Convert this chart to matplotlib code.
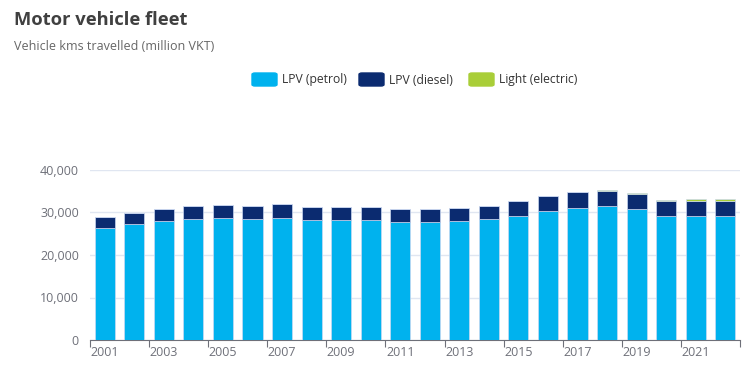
import numpy as np
import matplotlib.pyplot as plt
from matplotlib.patches import FancyBboxPatch
from matplotlib.ticker import FuncFormatter, MultipleLocator

plt.rcParams['font.family'] = ['Open Sans', 'DejaVu Sans']

years = list(range(2001, 2023))
petrol = [26350, 27220, 28000, 28550, 28630, 28390, 28790, 28160, 28240, 28240, 27840,
          27690, 28000, 28390, 29250, 30430, 31140, 31450, 30740, 29180, 29250, 29250]
diesel = [2510, 2660, 2740, 2980, 3130, 3140, 3130, 3050, 3050, 3050, 2900,
          3050, 3060, 3220, 3380, 3450, 3600, 3690, 3690, 3450, 3540, 3460]
electric = [0, 0, 0, 0, 0, 0, 0, 0, 0, 0, 0,
            0, 0, 5, 10, 20, 40, 150, 150, 230, 310, 550]
series_names = ['LPV (petrol)', 'LPV (diesel)', 'Light (electric)']
colors = ['#00b2ee', '#0b2b70', '#a9ce38']

fig = plt.figure(figsize=(7.51, 3.69), dpi=100)
ax = fig.add_axes([90/751, 29/369, 650/751, 170/369])

x = np.arange(len(years))
bottom = np.zeros(len(years))
for vals, c in zip([petrol, diesel, electric], colors):
    ax.bar(x, vals, bottom=bottom, width=0.68, color=c,
           edgecolor=(0.8, 0.85, 0.95, 0.8), linewidth=0.6, zorder=3)
    bottom += np.array(vals)

ax.set_xlim(-0.5, len(years) - 0.5)
ax.set_ylim(0, 40000)
ax.yaxis.set_major_locator(MultipleLocator(10000))
ax.yaxis.set_major_formatter(FuncFormatter(lambda v, p: f'{int(v):,}'))
ax.grid(axis='y', color='#e0e6f1', linewidth=1, zorder=0)
for s in ['top', 'right', 'left']:
    ax.spines[s].set_visible(False)
ax.spines['bottom'].set_color('#6e7079')
ax.tick_params(axis='y', length=0, pad=8, labelsize=9, labelcolor='#6e7079')

# category boundary ticks every 2, labels on bar centres
ax.set_xticks(np.arange(-0.5, len(years), 2))
ax.set_xticklabels([])
ax.tick_params(axis='x', length=5, color='#6e7079', direction='out')
ax.set_xticks(x[::2], minor=True)
ax.set_xticklabels([str(y) for y in years[::2]], minor=True)
ax.tick_params(axis='x', which='minor', length=0, pad=4, labelsize=9, labelcolor='#6e7079')

fig.text(14/751, 1 - 20/369, 'Motor vehicle fleet', fontsize=13.2, fontweight='bold',
         color='#404040', va='center', ha='left')
fig.text(14/751, 1 - 46/369, 'Vehicle kms travelled (million VKT)', fontsize=9,
         color='#666666', va='center', ha='left')

# legend
leg_y = 1 - 80/369
item_x = [252, 359, 469]
for px, name, c in zip(item_x, series_names, colors):
    fig.patches.append(FancyBboxPatch((px/751, leg_y - 6/369), 25/751, 13/369,
                                      boxstyle='round,pad=0,rounding_size=0.004',
                                      transform=fig.transFigure, color=c))
    fig.text((px + 30)/751, leg_y, name, fontsize=8.7, color='#333333',
             va='center', ha='left')

fig.savefig('out.png', dpi=100)
